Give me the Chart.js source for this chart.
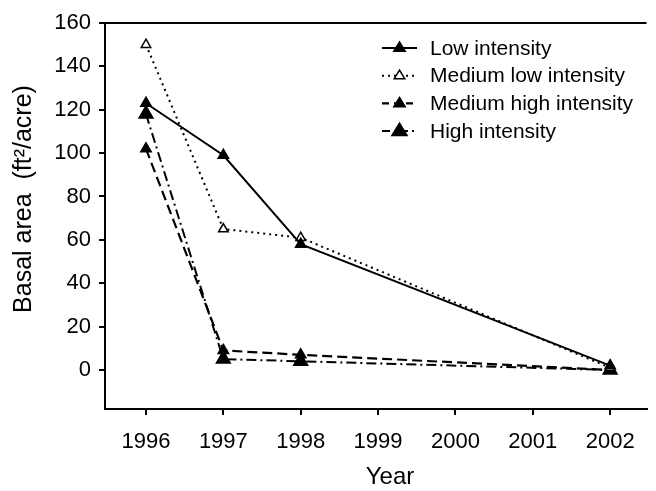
<!DOCTYPE html>
<html>
<head>
<meta charset="utf-8">
<script src="https://cdn.jsdelivr.net/npm/chart.js@4/dist/chart.umd.min.js"></script>
<style>
html,body{margin:0;padding:0;background:#fff;}
#wrap{width:656px;height:491px;position:relative;}
</style>
</head>
<body>
<div id="wrap"><canvas id="c" width="656" height="491"></canvas></div>
<script>
const years = [1996, 1997, 1998, 2002];
const xTickLabels = [1996, 1997, 1998, 1999, 2000, 2001, 2002];
const yTickLabels = [0, 20, 40, 60, 80, 100, 120, 140, 160];
const lowIntensity = [123, 99, 58, 2];
const mediumLowIntensity = [150, 65, 61, 1];
const mediumHighIntensity = [102, 9, 7, 0];
const highIntensity = [118, 5, 4, 0];
const seriesNames = ["Low intensity", "Medium low intensity", "Medium high intensity", "High intensity"];
const xTitle = "Year";
const yTitle = "Basal area  (ft\u00B2/acre)";

const FONT = "'Liberation Sans', Arial, sans-serif";
function pts(vals){ return years.map((y,i)=>({x:y, y:vals[i]})); }

const styles = [
  {dash: [], legendDash: [], width: 2, fill: '#000', r: 6},
  {dash: [2, 4], legendDash: [2, 4], width: 2, fill: '#fff', r: 5.5},
  {dash: [10, 5], legendDash: [7, 5], width: 2.2, fill: '#000', r: 6},
  {dash: [10, 4, 2, 4], legendDash: [8, 4, 2, 4], width: 2, fill: '#000', r: 8}
];
const allVals = [lowIntensity, mediumLowIntensity, mediumHighIntensity, highIntensity];

const datasets = allVals.map((v,i)=>({
  label: seriesNames[i],
  data: pts(v),
  showLine: true,
  borderColor: '#000',
  borderWidth: styles[i].width,
  borderDash: styles[i].dash,
  pointStyle: 'triangle',
  pointRadius: styles[i].r,
  pointBackgroundColor: styles[i].fill,
  pointBorderColor: '#000',
  pointBorderWidth: 1.5,
  fill: false,
  tension: 0
}));

const framePlugin = {
  id: 'frame',
  afterDraw(chart){
    const ctx = chart.ctx, a = chart.chartArea;
    ctx.save();
    ctx.strokeStyle = '#000';
    ctx.lineWidth = 2;
    ctx.beginPath();
    ctx.moveTo(a.left, a.top);
    ctx.lineTo(a.right, a.top);
    ctx.stroke();
    // axis titles
    ctx.fillStyle = '#000';
    ctx.textAlign = 'center';
    ctx.textBaseline = 'middle';
    ctx.font = "24px " + FONT;
    ctx.fillText(xTitle, 390, 477);
    ctx.save();
    ctx.font = "25px " + FONT;
    ctx.translate(24, 199);
    ctx.rotate(-Math.PI/2);
    ctx.fillText(yTitle, 0, 0);
    ctx.restore();
    // legend
    const lx0 = 382, lx1 = 417, tx = 430, y0 = 48, dy = 27.7;
    ctx.font = "21px " + FONT;
    ctx.textAlign = 'left';
    ctx.textBaseline = 'middle';
    seriesNames.forEach((name,i)=>{
      const y = y0 + i*dy;
      const s = styles[i];
      ctx.setLineDash(s.legendDash);
      ctx.lineWidth = s.width;
      ctx.beginPath();
      ctx.moveTo(lx0, y); ctx.lineTo(lx1, y); ctx.stroke();
      ctx.setLineDash([]);
      const cx = (lx0+lx1)/2, r = s.r;
      ctx.beginPath();
      ctx.moveTo(cx, y - r);
      ctx.lineTo(cx + r*0.95, y + r*0.55);
      ctx.lineTo(cx - r*0.95, y + r*0.55);
      ctx.closePath();
      ctx.fillStyle = s.fill;
      ctx.fill();
      ctx.lineWidth = 1.5;
      ctx.stroke();
      ctx.fillStyle = '#000';
      ctx.fillText(name, tx, y + 1);
    });
    ctx.restore();
  }
};

new Chart(document.getElementById('c'), {
  type: 'scatter',
  data: { datasets },
  options: {
    responsive: false,
    animation: false,
    devicePixelRatio: 1,
    layout: { padding: { top: 23, left: 0, right: 0, bottom: 0 } },
    plugins: { legend: { display: false }, tooltip: { enabled: false } },
    scales: {
      x: {
        type: 'linear',
        min: 1995.47, max: 2002.47,
        afterBuildTicks(s){ s.ticks = xTickLabels.map(v=>({value:v})); },
        afterFit(s){ s.height = 82; },
        ticks: { color: '#000', font: { family: FONT, size: 22 }, padding: 14, maxRotation: 0,
                 callback: v => String(v) },
        grid: { drawOnChartArea: false, drawTicks: true, tickLength: 6, color: '#000', lineWidth: 2 },
        border: { display: true, color: '#000', width: 2 },
        title: { display: false }
      },
      y: {
        min: -18, max: 160,
        afterBuildTicks(s){ s.ticks = yTickLabels.map(v=>({value:v})); },
        afterFit(s){ s.width = 105; },
        ticks: { color: '#000', font: { family: FONT, size: 22 }, padding: 8 },
        grid: { drawOnChartArea: false, drawTicks: true, tickLength: 6, color: '#000', lineWidth: 2 },
        border: { display: true, color: '#000', width: 2 },
        title: { display: false }
      }
    }
  },
  plugins: [framePlugin]
});
</script>
</body>
</html>
